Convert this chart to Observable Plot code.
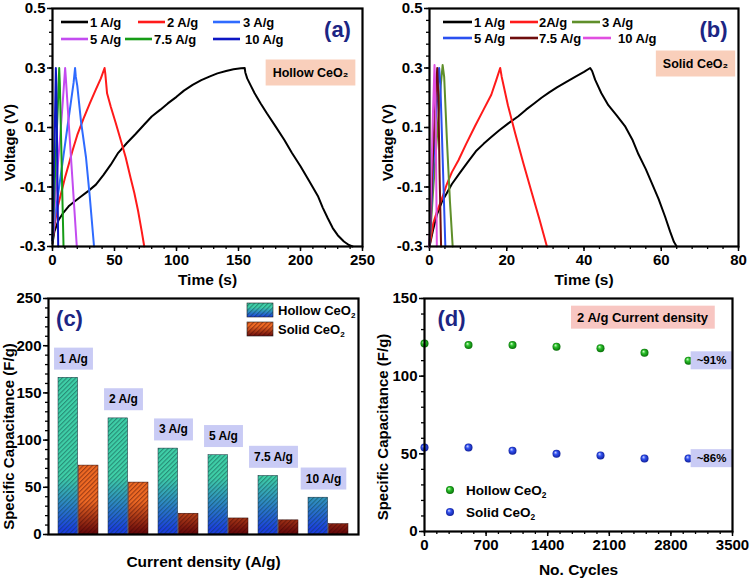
<!DOCTYPE html>
<html><head><meta charset="utf-8">
<script src="https://cdn.jsdelivr.net/npm/d3@7"></script>
<script src="https://cdn.jsdelivr.net/npm/@observablehq/plot@0.6"></script>
<style>
body{margin:0;background:#fff;}
#fig{position:relative;width:750px;height:580px;overflow:hidden;background:#fff;}
.panel{position:absolute;width:375px;height:290px;}
</style></head><body>
<div id="fig">
  <div class="panel" id="pa" style="left:0;top:0"></div>
  <div class="panel" id="pb" style="left:375px;top:0"></div>
  <div class="panel" id="pc" style="left:0;top:290px"></div>
  <div class="panel" id="pd" style="left:375px;top:290px"></div>
</div>
<script>
// ---------------- data ----------------
const rates = ["1 A/g", "2 A/g", "3 A/g", "5 A/g", "7.5 A/g", "10 A/g"];
const legendLabelsB = ["1 A/g", "2A/g", "3 A/g", "5 A/g", "7.5 A/g", "10 A/g"];

// (a) hollow CeO2 GCD curves: [time (s), voltage (V)]
const hollow_1 = [[0,-0.29],[1.5,-0.25],[5,-0.21],[9,-0.185],[13,-0.165],[18,-0.148],[23,-0.132],[29,-0.113],[35,-0.092],[41,-0.06],[47,-0.025],[53,0.015],[60,0.048],[67,0.078],[74,0.11],[80,0.137],[87,0.16],[93,0.181],[100,0.203],[106,0.224],[113,0.243],[120,0.259],[127,0.272],[133,0.282],[140,0.29],[146,0.296],[152,0.299],[155,0.3],[155.5,0.285],[157,0.265],[160,0.24],[163,0.215],[168,0.18],[173,0.147],[180,0.103],[187,0.058],[193,0.015],[200,-0.03],[207,-0.08],[214,-0.13],[218,-0.17],[222,-0.205],[226,-0.238],[230,-0.262],[235,-0.283],[239,-0.295],[242,-0.3]];
const hollow_2 = [[0,-0.28],[2,-0.22],[4,-0.17],[7,-0.12],[10,-0.07],[13,-0.025],[16,0.02],[20,0.075],[25,0.13],[30,0.18],[35,0.228],[39,0.265],[42,0.3],[42.6,0.28],[44,0.215],[47,0.17],[51,0.115],[55,0.058],[59,0],[63,-0.07],[66,-0.12],[69,-0.18],[72,-0.25],[74,-0.3]];
const hollow_3 = [[0,-0.28],[2,-0.2],[4,-0.14],[6,-0.08],[9,0.01],[12,0.1],[15,0.19],[17,0.25],[18.2,0.3],[18.8,0.27],[20,0.24],[23,0.12],[27,0],[30,-0.13],[33.5,-0.3]];
const hollow_5 = [[0,-0.28],[2,-0.15],[4,-0.04],[6,0.06],[8,0.17],[10.2,0.3],[10.7,0.27],[13,0.12],[16,-0.07],[19.6,-0.3]];
const hollow_7_5 = [[0,-0.28],[1.5,-0.12],[3,0.04],[4.3,0.17],[5.4,0.3],[5.9,0.25],[7,0.05],[8,-0.14],[8.9,-0.3]];
const hollow_10 = [[0,-0.28],[1,-0.08],[2,0.13],[2.7,0.3],[3.1,0.24],[3.8,0],[4.6,-0.3]];

// (b) solid CeO2 GCD curves
const solid_1 = [[0,-0.3],[1,-0.24],[2,-0.19],[3.2,-0.15],[4.5,-0.12],[5.8,-0.09],[8,-0.05],[10,-0.015],[12,0.02],[14,0.045],[16,0.068],[18,0.09],[20.4,0.114],[23,0.138],[25,0.16],[27,0.18],[29,0.2],[31,0.218],[33,0.235],[35,0.25],[37.7,0.27],[40,0.287],[41.6,0.3],[42.1,0.29],[42.9,0.26],[44.5,0.215],[46.3,0.175],[48.5,0.14],[50.6,0.105],[52.5,0.06],[54.1,0.01],[56,-0.04],[57.5,-0.085],[59.3,-0.14],[61,-0.2],[62.3,-0.25],[63.3,-0.285],[64,-0.3]];
const solid_2 = [[0,-0.3],[1,-0.22],[2,-0.18],[3.2,-0.14],[4.5,-0.09],[5.8,-0.05],[7.5,-0.01],[9.5,0.045],[11.8,0.105],[14,0.16],[16,0.21],[17.3,0.26],[18.3,0.3],[18.7,0.27],[20.3,0.175],[22.2,0.08],[24.3,-0.02],[26.5,-0.12],[28.5,-0.21],[30.4,-0.3]];
const solid_3 = [[0,-0.3],[1,-0.1],[2,0.08],[2.9,0.24],[3.4,0.31],[3.8,0.27],[4.5,0.06],[5.3,-0.15],[6,-0.3]];
const solid_5 = [[0,-0.3],[0.8,-0.08],[1.6,0.12],[2.5,0.3],[2.8,0.25],[3.4,0],[4.1,-0.3]];
const solid_7_5 = [[0,-0.3],[0.7,-0.05],[1.4,0.15],[2,0.3],[2.3,0.2],[2.6,-0.05],[3,-0.3]];
const solid_10 = [[0,-0.3],[0.4,-0.1],[0.9,0.15],[1.3,0.31],[1.5,0.22],[1.7,0],[1.9,-0.3]];

// (c) specific capacitance vs current density (F/g)
const hollowCap = [166, 123, 91, 84, 62, 39];
const solidCap = [73, 55, 22, 17, 15, 11];

// (d) cycling at 2 A/g
const cycles = [0, 500, 1000, 1500, 2000, 2500, 3000];
const hollowCycle = [121, 120, 120, 119, 118, 115, 110];
const solidCycle = [54, 54, 52, 50, 49, 47, 47];
const retentionLabels = ["~91%", "~86%"];

// tick values
const gcdYTicks = [-0.3, -0.1, 0.1, 0.3, 0.5];
const aXTicks = [0, 50, 100, 150, 200, 250];
const bXTicks = [0, 20, 40, 60, 80];
const cYTicks = [0, 50, 100, 150, 200, 250];
const dXTicks = [0, 700, 1400, 2100, 2800, 3500];
const dYTicks = [0, 50, 100, 150];

// ---------------- styling ----------------
const colorsA = ["#000000", "#ff1a1a", "#2f6bff", "#c34cf0", "#169c16", "#0d16c4"];
const colorsB = ["#000000", "#ff1a1a", "#5f8f2a", "#2a50f0", "#6e0d0d", "#e04fe0"];
const FONT = '"Liberation Sans", Arial, Helvetica, sans-serif';
const NAVY = "#1c2583";
const baseStyle = {fontFamily: FONT, fontWeight: "bold", fontSize: "15px", background: "transparent", overflow: "visible", color: "#000"};
const NS = "http://www.w3.org/2000/svg";

function axes({xTicks, xMinor, yTicks, yMinor, yFmt}) {
  const m = [];
  if (xTicks) {
    m.push(Plot.axisX({ticks: xMinor, tickSize: 3, tickFormat: () => "", label: null, strokeWidth: 1.3}));
    m.push(Plot.axisX({ticks: xTicks, tickSize: 5, tickPadding: 3, label: null, strokeWidth: 1.5, fontSize: 15, tickFormat: d => String(d)}));
  }
  m.push(Plot.axisY({ticks: yMinor, tickSize: 3, tickFormat: () => "", label: null, strokeWidth: 1.3}));
  m.push(Plot.axisY({ticks: yTicks, tickSize: 5, tickPadding: 2, label: null, strokeWidth: 1.5, tickFormat: yFmt, fontSize: 15}));
  return m;
}

// draw a filled box behind every text element whose content is in `labels`
function addBoxes(svg, labels, fill, padX, padY) {
  svg.querySelectorAll("text").forEach(t => {
    if (!labels.includes(t.textContent)) return;
    const b = t.getBBox();
    const r = document.createElementNS(NS, "rect");
    r.setAttribute("x", b.x - padX);
    r.setAttribute("y", b.y - padY);
    r.setAttribute("width", b.width + 2 * padX);
    r.setAttribute("height", b.height + 2 * padY);
    r.setAttribute("fill", fill);
    r.setAttribute("stroke", "none");
    const tr = t.getAttribute("transform");
    if (tr) r.setAttribute("transform", tr);
    t.parentNode.insertBefore(r, t);
  });
}

function sub2(sel, base) {
  sel.append("tspan").text(base);
  sel.append("tspan").attr("font-size", "0.62em").attr("dy", "0.35em").text("2");
}

function lineLegend(svg, items, colors, labels) {
  const g = d3.select(svg).append("g").attr("font-family", FONT).attr("font-weight", "bold")
    .attr("font-size", 13).attr("text-anchor", "start");
  items.forEach(([x1, x2, y, tx], i) => {
    g.append("line").attr("x1", x1).attr("x2", x2).attr("y1", y).attr("y2", y)
      .attr("stroke", colors[i]).attr("stroke-width", 2.6);
    g.append("text").attr("x", tx).attr("y", y).attr("dy", "0.36em").text(labels[i]);
  });
}

// ---------------- GCD panels ----------------
function gcdPanel(el, series, colors, xmax, xTicks, xMinorStep, letter, boxText, boxDx, boxDy, mL, mR, yTitleDx) {
  const rows = series.flatMap((pts, i) => pts.map(([t, v]) => ({t, v, rate: rates[i]})));
  const p = Plot.plot({
    width: 375, height: 290, marginLeft: mL, marginRight: mR, marginTop: 8, marginBottom: 44,
    style: baseStyle,
    x: {domain: [0, xmax]},
    y: {domain: [-0.3, 0.5]},
    color: {domain: rates, range: colors},
    marks: [
      ...axes({xTicks, xMinor: d3.range(0, xmax + 0.001, xMinorStep), yTicks: gcdYTicks,
               yMinor: d3.range(0, 21).map(i => -0.3 + i * 0.04), yFmt: d => d.toFixed(1)}),
      Plot.line(rows, {x: "t", y: "v", z: "rate", stroke: "rate", strokeWidth: 2, curve: "linear"}),
      Plot.frame({stroke: "#000", strokeWidth: 2.2}),
      Plot.text([letter], {frameAnchor: "top-right", dx: -25, dy: 21, fontSize: 22, fill: NAVY, textAnchor: "middle", lineAnchor: "middle"}),
      Plot.text([boxText], {frameAnchor: "top-right", dx: boxDx, dy: boxDy, fontSize: 12.5, textAnchor: "middle", lineAnchor: "middle"}),
      Plot.text(["Time (s)"], {frameAnchor: "bottom", dy: 34, fontSize: 15.5, textAnchor: "middle", lineAnchor: "middle"}),
      Plot.text(["Voltage (V)"], {frameAnchor: "left", dx: yTitleDx, dy: 15, rotate: -90, fontSize: 15, textAnchor: "middle", lineAnchor: "middle"})
    ]
  });
  el.appendChild(p);
  addBoxes(p, [boxText], "#f9cfbb", 7, 6);
  return p;
}

const pa = gcdPanel(document.getElementById("pa"),
  [hollow_1, hollow_2, hollow_3, hollow_5, hollow_7_5, hollow_10], colorsA,
  250, aXTicks, 10, "(a)", "Hollow CeO₂", -52, 64, 52, 13, -42);
lineLegend(pa, [[61,88,22,90],[138,165,22,167],[213,240,22,243],[61,88,39,90],[125,152,39,154],[213,240,39,245]], colorsA, rates);

const pb = gcdPanel(document.getElementById("pb"),
  [solid_1, solid_2, solid_3, solid_5, solid_7_5, solid_10], colorsB,
  80, bXTicks, 4, "(b)", "Solid CeO₂", -43, 55, 54, 12, -41);
lineLegend(pb, [[68,97,22,99],[135,163,22,164],[197,225,22,227],[68,97,38,99],[135,163,38,164],[208,236,38,243]], colorsB, legendLabelsB);

// ---------------- (c) bars ----------------
{
  const mL = 48, mR = 17, pi = 0.2, po = 0.14;
  const step = (375 - mL - mR) / (rates.length - pi + 2 * po);
  const half = step * (1 - pi) / 2;
  const hRows = rates.map((r, i) => ({rate: r, v: hollowCap[i]}));
  const sRows = rates.map((r, i) => ({rate: r, v: solidCap[i]}));
  const p = Plot.plot({
    width: 375, height: 290, marginLeft: mL, marginRight: mR, marginTop: 8, marginBottom: 46,
    style: baseStyle,
    x: {domain: rates, type: "band", paddingInner: pi, paddingOuter: po, axis: null},
    y: {domain: [0, 250]},
    marks: [
      ...axes({yTicks: cYTicks, yMinor: d3.range(0, 251, 10), yFmt: d => String(d)}),
      Plot.barY(hRows, {x: "rate", y: "v", insetRight: half, fill: "url(#gHollow)"}),
      Plot.barY(hRows, {x: "rate", y: "v", insetRight: half, fill: "url(#hatchH)", stroke: "#1a2a3a", strokeWidth: 0.5}),
      Plot.barY(sRows, {x: "rate", y: "v", insetLeft: half, fill: "url(#gSolid)"}),
      Plot.barY(sRows, {x: "rate", y: "v", insetLeft: half, fill: "url(#hatchS)", stroke: "#2a0a0a", strokeWidth: 0.5}),
      Plot.text(hRows, {x: "rate", y: "v", text: "rate", dx: -5, dy: -19, fontSize: 12}),
      Plot.frame({stroke: "#000", strokeWidth: 2.2}),
      Plot.text(["(c)"], {frameAnchor: "top-left", dx: 21, dy: 20, fontSize: 22, fill: NAVY, textAnchor: "middle", lineAnchor: "middle"}),
      Plot.text(["Current density (A/g)"], {frameAnchor: "bottom", dy: 28, fontSize: 15.5, textAnchor: "middle", lineAnchor: "middle"}),
      Plot.text(["Specific Capacitance (F/g)"], {frameAnchor: "left", dx: -39, dy: 20, rotate: -90, fontSize: 15, textAnchor: "middle", lineAnchor: "middle"})
    ]
  });
  document.getElementById("pc").appendChild(p);
  const y = p.scale("y");
  const defs = d3.select(p).insert("defs", ":first-child");
  const gh = defs.append("linearGradient").attr("id", "gHollow").attr("gradientUnits", "userSpaceOnUse")
    .attr("x1", 0).attr("x2", 0).attr("y1", y.apply(60)).attr("y2", y.apply(5));
  gh.append("stop").attr("offset", 0).attr("stop-color", "#3fd0a8");
  gh.append("stop").attr("offset", 1).attr("stop-color", "#1c3ee0");
  const gs = defs.append("linearGradient").attr("id", "gSolid").attr("gradientUnits", "userSpaceOnUse")
    .attr("x1", 0).attr("x2", 0).attr("y1", y.apply(35)).attr("y2", y.apply(2));
  gs.append("stop").attr("offset", 0).attr("stop-color", "#ef6a24");
  gs.append("stop").attr("offset", 1).attr("stop-color", "#6a0b0b");
  const gh2 = defs.append("linearGradient").attr("id", "gHollowSw").attr("x1", 0).attr("x2", 0).attr("y1", 0).attr("y2", 1);
  gh2.append("stop").attr("offset", 0.3).attr("stop-color", "#3fd0a8");
  gh2.append("stop").attr("offset", 1).attr("stop-color", "#1c3ee0");
  const gs2 = defs.append("linearGradient").attr("id", "gSolidSw").attr("x1", 0).attr("x2", 0).attr("y1", 0).attr("y2", 1);
  gs2.append("stop").attr("offset", 0.3).attr("stop-color", "#ef6a24");
  gs2.append("stop").attr("offset", 1).attr("stop-color", "#6a0b0b");
  [["hatchH", "#0b3a3a"], ["hatchS", "#3a0505"]].forEach(([id, c]) => {
    const pt = defs.append("pattern").attr("id", id).attr("patternUnits", "userSpaceOnUse")
      .attr("width", 3.2).attr("height", 3.2).attr("patternTransform", "rotate(45)");
    pt.append("rect").attr("x", 0).attr("y", 0).attr("width", 1.1).attr("height", 3.2).attr("fill", c).attr("fill-opacity", 0.45);
  });
  addBoxes(p, rates, "#c9cbf5", 5, 4);
  // legend
  const lg = d3.select(p).append("g").attr("font-family", FONT).attr("font-weight", "bold")
    .attr("font-size", 13).attr("text-anchor", "start");
  [["gHollowSw", "hatchH", 13, "Hollow CeO"], ["gSolidSw", "hatchS", 32, "Solid CeO"]].forEach(([g, h, yy, lab]) => {
    lg.append("rect").attr("x", 247).attr("y", yy).attr("width", 26).attr("height", 14).attr("fill", `url(#${g})`);
    lg.append("rect").attr("x", 247).attr("y", yy).attr("width", 26).attr("height", 14).attr("fill", `url(#${h})`).attr("stroke", "#222").attr("stroke-width", 0.6);
    const t = lg.append("text").attr("x", 278).attr("y", yy + 7).attr("dy", "0.36em");
    sub2(t, lab);
  });
}

// ---------------- (d) cycling ----------------
{
  const hRows = cycles.map((c, i) => ({c, v: hollowCycle[i]}));
  const sRows = cycles.map((c, i) => ({c, v: solidCycle[i]}));
  const last = [hRows[hRows.length - 1], sRows[sRows.length - 1]].map((d, i) => ({...d, lab: retentionLabels[i]}));
  const p = Plot.plot({
    width: 375, height: 290, marginLeft: 49, marginRight: 18, marginTop: 8, marginBottom: 49,
    style: baseStyle,
    x: {domain: [0, 3500]},
    y: {domain: [0, 150]},
    marks: [
      ...axes({xTicks: dXTicks, xMinor: d3.range(0, 3501, 140), yTicks: dYTicks, yMinor: d3.range(0, 151, 10), yFmt: d => String(d)}),
      Plot.dot(hRows, {x: "c", y: "v", r: 4, fill: "url(#rgGreen)"}),
      Plot.dot(sRows, {x: "c", y: "v", r: 4, fill: "url(#rgBlue)"}),
      Plot.text(last, {x: "c", y: "v", text: "lab", dx: 23, fontSize: 11.5}),
      Plot.frame({stroke: "#000", strokeWidth: 2.2}),
      Plot.text(["(d)"], {frameAnchor: "top-left", dx: 27, dy: 20, fontSize: 22, fill: NAVY, textAnchor: "middle", lineAnchor: "middle"}),
      Plot.text(["2 A/g Current density"], {frameAnchor: "top-right", dx: -90, dy: 19, fontSize: 13, textAnchor: "middle", lineAnchor: "middle"}),
      Plot.text(["No. Cycles"], {frameAnchor: "bottom", dy: 39, fontSize: 15.5, textAnchor: "middle", lineAnchor: "middle"}),
      Plot.text(["Specific Capacitance (F/g)"], {frameAnchor: "left", dx: -41, dy: 12, rotate: -90, fontSize: 15, textAnchor: "middle", lineAnchor: "middle"})
    ]
  });
  document.getElementById("pd").appendChild(p);
  const defs = d3.select(p).insert("defs", ":first-child");
  [["rgGreen", "#d8ffd0", "#2cc02c", "#006400"], ["rgBlue", "#d6dcff", "#3352f0", "#0a1890"]].forEach(([id, a, b, c]) => {
    const g = defs.append("radialGradient").attr("id", id).attr("cx", "50%").attr("cy", "50%").attr("r", "55%").attr("fx", "35%").attr("fy", "30%");
    g.append("stop").attr("offset", 0).attr("stop-color", a);
    g.append("stop").attr("offset", 0.4).attr("stop-color", b);
    g.append("stop").attr("offset", 1).attr("stop-color", c);
  });
  addBoxes(p, retentionLabels, "#c9cbf5", 6, 3);
  addBoxes(p, ["2 A/g Current density"], "#f8c6c2", 6, 4);
  const lg = d3.select(p).append("g").attr("font-family", FONT).attr("font-weight", "bold")
    .attr("font-size", 13.5).attr("text-anchor", "start");
  [["rgGreen", 200, "Hollow CeO"], ["rgBlue", 222, "Solid CeO"]].forEach(([g, yy, lab]) => {
    lg.append("circle").attr("cx", 75).attr("cy", yy).attr("r", 4).attr("fill", `url(#${g})`);
    const t = lg.append("text").attr("x", 91).attr("y", yy).attr("dy", "0.36em");
    sub2(t, lab);
  });
}
</script>
</body></html>
